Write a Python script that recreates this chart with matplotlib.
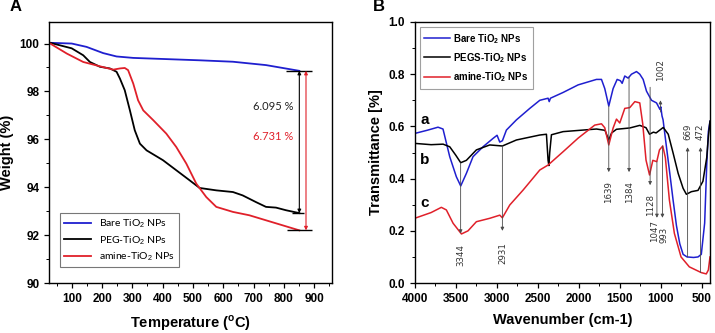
import matplotlib.pyplot as plt
from matplotlib.ticker import MultipleLocator

plt.rcParams['font.family'] = ['Liberation Sans', 'DejaVu Sans']
plt.rcParams['mathtext.fontset'] = 'custom'
plt.rcParams['mathtext.rm'] = 'Liberation Sans'
plt.rcParams['mathtext.bf'] = 'Liberation Sans:bold'

# ---- panel A: TGA ----
tga_blue_t = [29, 100, 149, 204, 248, 303, 412, 522, 632, 686, 741, 796, 851]
tga_blue_w = [100.03, 100.0, 99.86, 99.6, 99.46, 99.4, 99.35, 99.3, 99.24, 99.17, 99.1, 98.98, 98.86]

tga_black_t = [29, 100, 138, 160, 193, 226, 248, 259, 275, 292, 308, 325, 347, 401, 445,
               489, 522, 577, 632, 664, 708, 741, 774, 807, 851]
tga_black_w = [100.03, 99.8, 99.51, 99.23, 99.03, 98.96, 98.82, 98.54, 98.05, 97.21, 96.38,
               95.82, 95.54, 95.13, 94.71, 94.29, 93.97, 93.87, 93.8, 93.66, 93.38, 93.18,
               93.15, 93.04, 92.92]

tga_red_t = [29, 84, 138, 193, 237, 259, 275, 286, 303, 319, 336, 369, 412, 445, 478,
             511, 544, 577, 632, 686, 741, 796, 851]
tga_red_w = [100.0, 99.58, 99.23, 99.05, 98.91, 98.96, 98.98, 98.89, 98.33, 97.63, 97.21,
             96.8, 96.24, 95.68, 94.99, 94.15, 93.59, 93.18, 92.97, 92.83, 92.62, 92.41, 92.2]

tga_labels = ['Bare TiO$_2$ NPs', 'PEG-TiO$_2$ NPs', 'amine-TiO$_2$ NPs']
loss_black = '6.095 %'
loss_red = '6.731 %'

# ---- panel B: FTIR ----
ir_blue_x = [4000, 3850, 3716, 3655, 3573, 3492, 3439, 3370, 3289, 3167, 3045, 2996, 2963,
             2931, 2882, 2760, 2597, 2475, 2374, 2360, 2345, 2191, 2008, 1784, 1723, 1683,
             1634, 1581, 1532, 1492, 1471, 1439, 1398, 1357, 1296, 1256, 1215, 1174, 1113,
             1052, 1010, 1000, 985, 972, 931, 890, 850, 809, 768, 728, 680, 600, 546, 506,
             465, 440, 420, 400]
ir_blue_y = [0.573, 0.585, 0.597, 0.59, 0.484, 0.407, 0.372, 0.42, 0.484, 0.522, 0.554, 0.566,
             0.54, 0.545, 0.586, 0.625, 0.669, 0.70, 0.708, 0.695, 0.708, 0.73, 0.759, 0.78,
             0.78, 0.745, 0.678, 0.745, 0.78, 0.775, 0.765, 0.793, 0.785, 0.80, 0.81, 0.80,
             0.78, 0.735, 0.700, 0.69, 0.665, 0.675, 0.64, 0.625, 0.522, 0.42, 0.318, 0.22,
             0.15, 0.11, 0.10, 0.098, 0.10, 0.11, 0.23, 0.45, 0.58, 0.62]

ir_black_x = [4000, 3800, 3654, 3573, 3500, 3439, 3370, 3248, 3085, 2931, 2760, 2475, 2394,
              2374, 2364, 2354, 2333, 2191, 1784, 1680, 1634, 1600, 1540, 1378, 1256, 1180,
              1137, 1090, 1057, 970, 909, 849, 788, 728, 688, 627, 546, 486, 440, 420, 400]
ir_black_y = [0.535, 0.53, 0.532, 0.522, 0.49, 0.461, 0.47, 0.51, 0.529, 0.525, 0.548, 0.567,
              0.57, 0.47, 0.45, 0.5, 0.568, 0.58, 0.59, 0.585, 0.548, 0.575, 0.589, 0.594, 0.604,
              0.595, 0.57, 0.578, 0.575, 0.596, 0.57, 0.497, 0.42, 0.363, 0.34, 0.35, 0.355,
              0.39, 0.48, 0.56, 0.62]

ir_red_x = [4000, 3800, 3675, 3614, 3532, 3430, 3350, 3248, 3085, 2963, 2931, 2841, 2679,
            2475, 2374, 2191, 2008, 1805, 1723, 1683, 1634, 1581, 1540, 1500, 1439, 1378,
            1316, 1256, 1220, 1180, 1137, 1097, 1049, 1016, 976, 944, 895, 834, 753, 652,
            506, 445, 420, 400]
ir_red_y = [0.248, 0.27, 0.29, 0.28, 0.229, 0.188, 0.20, 0.235, 0.248, 0.26, 0.25, 0.299,
            0.356, 0.433, 0.452, 0.503, 0.555, 0.605, 0.61, 0.595, 0.529, 0.594, 0.628, 0.613,
            0.669, 0.672, 0.695, 0.69, 0.61, 0.471, 0.414, 0.47, 0.465, 0.51, 0.525, 0.48,
            0.318, 0.19, 0.10, 0.062, 0.04, 0.035, 0.05, 0.10]

ir_labels = ['Bare TiO$_\\mathbf{2}$ NPs', 'PEGS-TiO$_\\mathbf{2}$ NPs', 'amine-TiO$_\\mathbf{2}$ NPs']

peak_names = ['3344', '2931', '1639', '1384', '1128', '1047', '993', '1002', '669', '472']
peak_x = [3440, 2931, 1634, 1387, 1130, 1047, 980, 1004, 673, 515]
peak_text_x = [3440, 2931, 1634, 1387, 1130, 1075, 955, 1004, 673, 515]
peak_from = [0.46, 0.525, 0.678, 0.79, 0.75, 0.465, 0.525, 0.655, 0.10, 0.04]
peak_to = [0.19, 0.20, 0.425, 0.425, 0.375, 0.25, 0.25, 0.70, 0.52, 0.52]
peak_text_y = [0.107, 0.115, 0.35, 0.35, 0.30, 0.20, 0.185, 0.816, 0.578, 0.578]

c_blue = '#1f1fcf'
c_red = '#e0202a'

fig = plt.figure(figsize=(7.15, 3.33), dpi=100)
ax1 = fig.add_axes([0.0685, 0.150, 0.3955, 0.784])
ax2 = fig.add_axes([0.580, 0.150, 0.413, 0.784])

# panel A
ax1.plot(tga_blue_t, tga_blue_w, color=c_blue, lw=1.3, label=tga_labels[0])
ax1.plot(tga_black_t, tga_black_w, color='black', lw=1.3, label=tga_labels[1])
ax1.plot(tga_red_t, tga_red_w, color=c_red, lw=1.3, label=tga_labels[2])

ax1.hlines(tga_blue_w[-1], 806, 894, color='black', lw=1.0)
ax1.hlines(tga_black_w[-1], 828, 867, color='black', lw=1.0)
ax1.hlines(tga_red_w[-1], 811, 894, color='black', lw=1.0)
ax1.annotate('', xy=(851, tga_black_w[-1]), xytext=(851, tga_blue_w[-1]),
             arrowprops=dict(arrowstyle='<|-|>', color='black', lw=0.8, mutation_scale=5,
                             shrinkA=0, shrinkB=0))
ax1.annotate('', xy=(873, tga_red_w[-1]), xytext=(873, tga_blue_w[-1]),
             arrowprops=dict(arrowstyle='<|-|>', color=c_red, lw=0.8, mutation_scale=5,
                             shrinkA=0, shrinkB=0))
ax1.text(764, 97.38, loss_black, color='#222222', fontsize=8, family='Lato',
         ha='center', va='center')
ax1.text(764, 96.1, loss_red, color=c_red, fontsize=8, family='Lato',
         ha='center', va='center')

ax1.set_xlim(25, 958)
ax1.set_ylim(90, 100.9)
ax1.set_xticks([100, 200, 300, 400, 500, 600, 700, 800, 900])
ax1.xaxis.set_minor_locator(MultipleLocator(50))
ax1.set_yticks([90, 92, 94, 96, 98, 100])
ax1.yaxis.set_minor_locator(MultipleLocator(1))
ax1.set_xlabel('Temperature ($^\\mathbf{o}$C)', fontsize=10.5, fontweight='bold', labelpad=6)
ax1.set_ylabel('Weight (%)', fontsize=10.5, fontweight='bold', labelpad=4)
leg1 = ax1.legend(loc='lower left', bbox_to_anchor=(0.02, 0.04),
                  prop={'family': 'Lato', 'size': 7.5}, frameon=True, fancybox=False,
                  edgecolor='#555555', handlelength=2.6, borderpad=0.4, labelspacing=0.35)
leg1.get_frame().set_linewidth(0.8)
ax1.text(-0.14, 1.06, 'A', transform=ax1.transAxes, fontsize=12, fontweight='bold',
         ha='left', va='center')

# panel B
ax2.plot(ir_blue_x, ir_blue_y, color=c_blue, lw=1.1, label=ir_labels[0])
ax2.plot(ir_black_x, ir_black_y, color='black', lw=1.1, label=ir_labels[1])
ax2.plot(ir_red_x, ir_red_y, color=c_red, lw=1.1, label=ir_labels[2])

for name, x, tx, y0, y1, ty in zip(peak_names, peak_x, peak_text_x, peak_from, peak_to, peak_text_y):
    ax2.annotate('', xy=(x, y1), xytext=(x, y0),
                 arrowprops=dict(arrowstyle='-|>', color='#4a4a4a', lw=0.6,
                                 mutation_scale=5, shrinkA=0, shrinkB=0))
    ax2.text(tx, ty, name, rotation=90, ha='center', va='center', fontsize=6.2,
             color='#333333', family='DejaVu Sans')

ax2.text(3880, 0.625, 'a', fontsize=11, fontweight='bold', ha='center', va='center')
ax2.text(3880, 0.47, 'b', fontsize=11, fontweight='bold', ha='center', va='center')
ax2.text(3880, 0.306, 'c', fontsize=11, fontweight='bold', ha='center', va='center')

ax2.set_xlim(4000, 400)
ax2.set_ylim(0, 1.0)
ax2.set_xticks([4000, 3500, 3000, 2500, 2000, 1500, 1000, 500])
ax2.xaxis.set_minor_locator(MultipleLocator(250))
ax2.set_yticks([0.0, 0.2, 0.4, 0.6, 0.8, 1.0])
ax2.yaxis.set_minor_locator(MultipleLocator(0.1))
ax2.set_xlabel('Wavenumber (cm-1)', fontsize=10.5, fontweight='bold', labelpad=6)
ax2.set_ylabel('Transmittance [%]', fontsize=10.5, fontweight='bold', labelpad=4)
leg2 = ax2.legend(loc='upper left', bbox_to_anchor=(0.0, 1.0), prop={'weight': 'bold', 'size': 7},
                  frameon=True, fancybox=False, edgecolor='#888888', handlelength=2.6,
                  borderpad=0.5, labelspacing=0.55, handletextpad=0.3)
leg2.get_frame().set_linewidth(0.8)
ax2.text(-0.14, 1.06, 'B', transform=ax2.transAxes, fontsize=12, fontweight='bold',
         ha='left', va='center')

for ax in (ax1, ax2):
    for s in ax.spines.values():
        s.set_linewidth(1.0)
    ax.tick_params(which='major', direction='out', length=3.5, width=0.9, labelsize=8.5)
    ax.tick_params(which='minor', direction='out', length=2, width=0.7)
    for lab in ax.get_xticklabels() + ax.get_yticklabels():
        lab.set_fontweight('bold')

fig.savefig('out.png', dpi=100)
